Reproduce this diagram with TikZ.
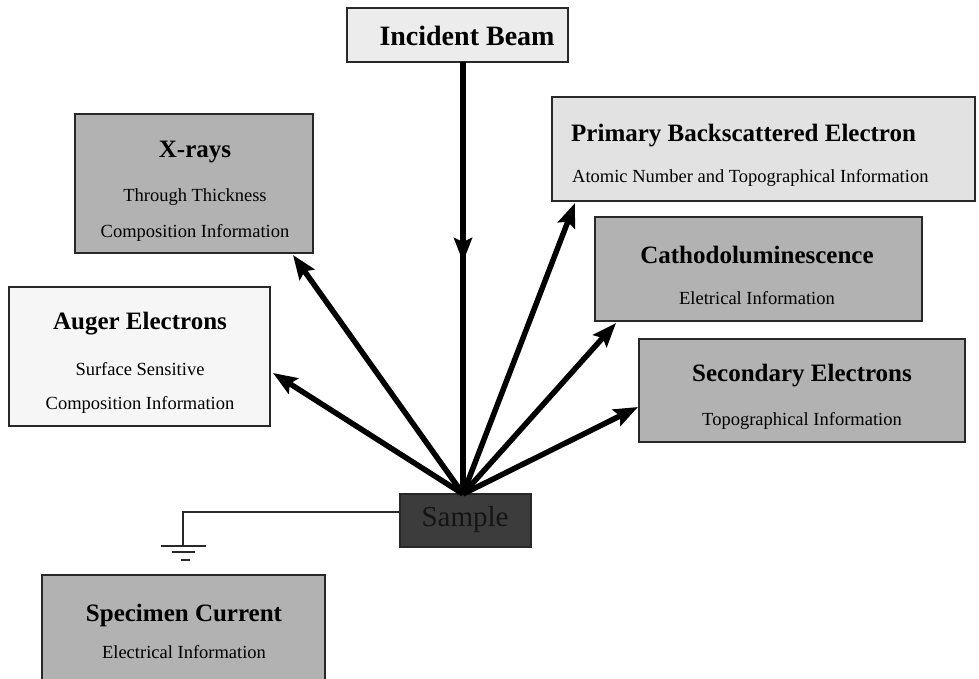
\documentclass[tikz,border=0pt]{standalone}
\usepackage{fontspec}
\setmainfont{Liberation Serif}
\usetikzlibrary{arrows.meta}
\definecolor{edge}{RGB}{40,40,40}
\definecolor{lightfill}{RGB}{236,236,236}
\definecolor{pbfill}{RGB}{226,226,226}
\definecolor{midfill}{RGB}{178,178,178}
\definecolor{palefill}{RGB}{246,246,246}
\definecolor{darkfill}{RGB}{60,60,60}
\definecolor{darktext}{RGB}{20,20,20}
\tikzset{
  box/.style={draw=edge, line width=1.6pt, anchor=north west, inner sep=0pt, outer sep=0pt},
  title/.style={font=\fontsize{25}{28}\selectfont\bfseries, inner sep=0pt},
  sub/.style={font=\fontsize{18.5}{21}\selectfont, inner sep=0pt},
  ray/.style={line width=5.5pt, -{Stealth[length=24pt,width=18pt,inset=4pt]}},
  beamline/.style={line width=5.5pt},
  wire/.style={line width=1.5pt, draw=edge}
}
\begin{document}
\begin{tikzpicture}[x=1pt,y=-1pt]
\useasboundingbox (0,0) rectangle (979,679);
% boxes
\node[box, fill=lightfill, minimum width=221pt, minimum height=54pt] (ib) at (347,8) {};
\node[box, fill=midfill, minimum width=238pt, minimum height=139pt] (xr) at (75,114) {};
\node[box, fill=pbfill, minimum width=423pt, minimum height=104pt] (pb) at (552,97) {};
\node[box, fill=midfill, minimum width=327pt, minimum height=104pt] (cl) at (595,217) {};
\node[box, fill=palefill, minimum width=261pt, minimum height=139pt] (au) at (9,287) {};
\node[box, fill=midfill, minimum width=326pt, minimum height=103pt] (se) at (639,339) {};
\node[box, fill=darkfill, minimum width=131pt, minimum height=53pt] (s) at (400,494) {};
\node[box, fill=midfill, minimum width=283pt, minimum height=120pt] (sc) at (42,575) {};
% texts
\node[title, font=\fontsize{28}{30}\selectfont\bfseries] (ibt) at (467,36) {Incident Beam};
\node[title] (xrt) at (195,152) {X-rays};
\node[sub] (xrs1) at (195,197) {Through Thickness};
\node[sub] (xrs2) at (195,233) {Composition Information};
\node[title, anchor=west] (pbt) at (571,136) {Primary Backscattered Electron};
\node[sub, anchor=west] (pbs) at (572,178) {Atomic Number and Topographical Information};
\node[title] (clt) at (757,255) {Cathodoluminescence};
\node[sub] (cls) at (757,298) {Eletrical Information};
\node[title] (aut) at (140,324) {Auger Electrons};
\node[sub] (aus1) at (140,369) {Surface Sensitive};
\node[sub] (aus2) at (140,405) {Composition Information};
\node[title] (set) at (802,376) {Secondary Electrons};
\node[sub] (ses) at (802,421) {Topographical Information};
\node[inner sep=0pt, text=darktext, font=\fontsize{29}{31}\selectfont] (st) at (465,520) {Sample};
\node[title] (sct) at (184,615) {Specimen Current};
\node[sub] (scs) at (184,652) {Electrical Information};
% connector end points
\coordinate (hub) at ([xshift=-2.5pt]s.north);
\coordinate (xrtip) at (293,255);
\coordinate (autip) at (273,373);
\coordinate (pbtip) at (575,203);
\coordinate (cltip) at (616,323);
\coordinate (setip) at (638,407);
\coordinate (ibtip) at (463,262);
% incident beam
\draw[beamline] (ib.south -| hub) -- (hub);
\draw[ray] (ib.south -| hub) -- (ibtip);
% emitted signals
\draw[ray] (hub) -- (xrtip);
\draw[ray] (hub) -- (autip);
\draw[ray] (hub) -- (pbtip);
\draw[ray] (hub) -- (cltip);
\draw[ray] (hub) -- (setip);
% ground
\coordinate (gnd) at (183,546);
\draw[wire] ([yshift=8.5pt]s.west) -| (gnd);
\draw[wire] ([xshift=-22pt]gnd) -- ([xshift=23pt]gnd);
\draw[wire] ([xshift=-11pt,yshift=-6pt]gnd) -- ([xshift=12pt,yshift=-6pt]gnd);
\draw[wire] ([xshift=-2pt,yshift=-14pt]gnd) -- ([xshift=7pt,yshift=-14pt]gnd);
\end{tikzpicture}
\end{document}
